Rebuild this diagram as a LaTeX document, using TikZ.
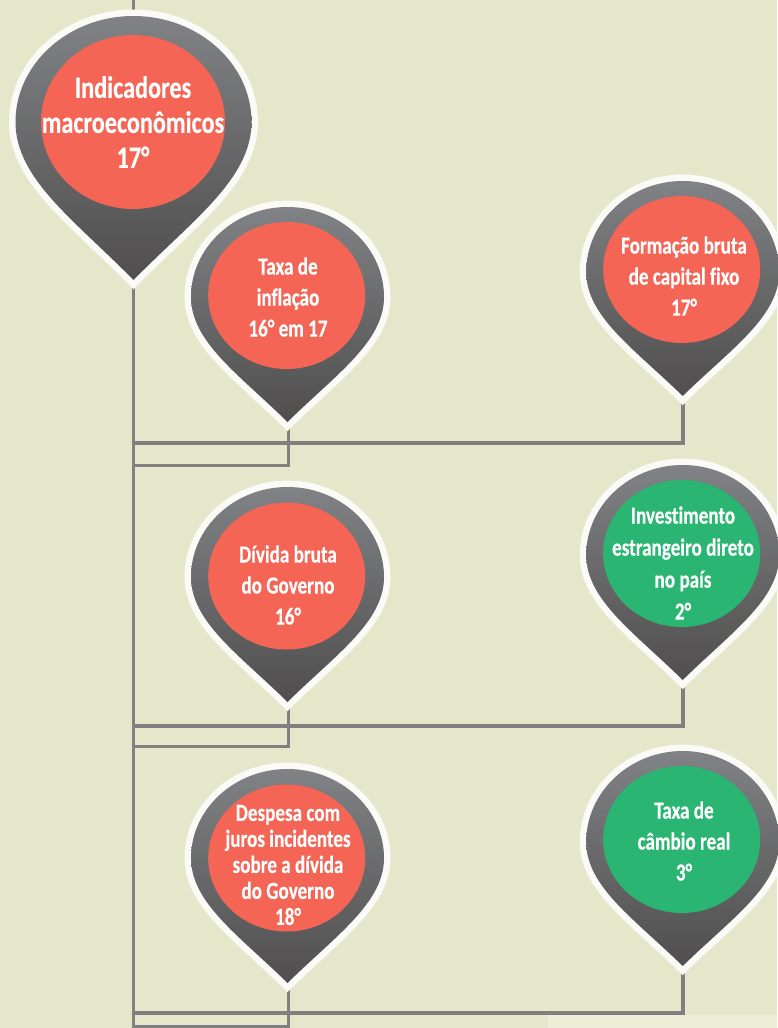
\documentclass[tikz,border=0pt]{standalone}
\usepackage{fontspec}
\setmainfont[FakeStretch=0.78,Ligatures=NoCommon,Contextuals=NoAlternate,BoldFeatures={FakeBold=0.3}]{Carlito}
\definecolor{bgc}{HTML}{E4E7C9}
\definecolor{patchc}{HTML}{EBEDD6}
\definecolor{linec}{HTML}{808080}
\definecolor{edgec}{HTML}{FAFAF7}
\definecolor{redc}{HTML}{F46556}
\definecolor{greenc}{HTML}{2BB573}
\definecolor{topc}{HTML}{808285}
\definecolor{botc}{HTML}{504E4E}
\tikzset{
 conn/.style={draw=linec,line width=3.6pt,line join=miter},
 connthin/.style={draw=linec,line width=3pt,line join=miter},
 lab/.style={text=white,align=center,font=\bfseries\fontsize{24.5}{31}\selectfont,inner sep=0pt},
 labwide/.style={text=white,align=center,font=\bfseries\fontsize{24.5}{32}\selectfont,inner sep=0pt},
 labtight/.style={text=white,align=center,font=\bfseries\fontsize{24.5}{26}\selectfont,inner sep=0pt},
 labbig/.style={text=white,align=center,font=\bfseries\fontsize{31}{35}\selectfont,inner sep=0pt},
}
\newcommand{\pinshape}[5]{%
 (#1-#4,#2) .. controls (#1-#4,#2-0.55*#2+0.55*#3) and (#1-0.55*#4,#3) .. (#1,#3)
 .. controls (#1+0.55*#4,#3) and (#1+#4,#2-0.55*#2+0.55*#3) .. (#1+#4,#2)
 .. controls (#1+#4,#2+0.36*#5-0.36*#2) and (#1+0.5*#4,#5-0.38*#5+0.38*#2) .. (#1,#5)
 .. controls (#1-0.5*#4,#5-0.38*#5+0.38*#2) and (#1-#4,#2+0.36*#5-0.36*#2) .. cycle}
\newcommand{\pinbody}[5]{%
 \draw[edgec,line width=13pt,line join=miter,miter limit=10] \pinshape{#1}{#2}{#3}{#4}{#5};
 \shade[top color=topc,bottom color=botc] \pinshape{#1}{#2}{#3}{#4}{#5};}
\begin{document}
\begin{tikzpicture}[x=1pt,y=-1pt]
\useasboundingbox (0,0) rectangle (777,1028);
\fill[bgc] (0,0) rectangle (777,1028);
\fill[patchc] (548,1015) rectangle (777,1028);
\coordinate (trunktop) at (133,0);
\coordinate (trunkbot) at (133,1028);
\coordinate (t1) at (288,425);
\coordinate (t2) at (683,400);
\coordinate (t3) at (288,705);
\coordinate (t4) at (683,683);
\coordinate (t5) at (288,986);
\coordinate (t6) at (683,970);
\coordinate (j1) at (133,465);
\coordinate (j2) at (133,443);
\coordinate (j3) at (133,746);
\coordinate (j4) at (133,726);
\coordinate (j5) at (133,1026.5);
\coordinate (j6) at (133,1013);
\draw[connthin] (trunktop) -- (trunkbot);
\draw[conn] (j2) -| (t2);
\draw[connthin] (j1) -| (t1);
\draw[conn] (j4) -| (t4);
\draw[connthin] (j3) -| (t3);
\draw[conn] (j6) -| (t6);
\draw[connthin] (j5) -| (t5);
\pinbody{133.5}{122}{16}{118}{280}
\fill[redc] (133,122) ellipse [x radius=92,y radius=87];
\node[labbig] (n0) at (133,122) {Indicadores\\macroeconômicos\\17°};
\pinbody{287.5}{297}{207}{96.5}{422}
\fill[redc] (286.7,295.5) ellipse [x radius=78.5,y radius=73.5];
\node[lab] (n1) at (288,297) {Taxa de\\inflação\\16° em 17};
\pinbody{287.5}{577}{487}{96.5}{702}
\fill[redc] (286.7,576) ellipse [x radius=78.5,y radius=73.5];
\node[lab] (n3) at (288,585) {Dívida bruta\\do Governo\\16°};
\pinbody{287.5}{858}{769}{96.5}{983}
\fill[redc] (286.7,858) ellipse [x radius=78.5,y radius=73.5];
\node[labtight] (n5) at (288,865) {Despesa com\\juros incidentes\\sobre a dívida\\do Governo\\18°};
\pinbody{682.7}{272}{181}{96.5}{396}
\fill[redc] (681.7,269.5) ellipse [x radius=78.5,y radius=73.5];
\node[lab] (n2) at (684,276) {Formação bruta\\de capital fixo\\17°};
\pinbody{682.7}{555}{465}{96.5}{680}
\fill[greenc] (681.7,553.5) ellipse [x radius=78.5,y radius=73.5];
\node[labwide] (n4) at (683,563) {Investimento\\estrangeiro direto\\no país\\2°};
\pinbody{682.7}{842}{751}{96.5}{966}
\fill[greenc] (681.7,839.5) ellipse [x radius=78.5,y radius=73.5];
\node[lab] (n6) at (684,841) {Taxa de\\câmbio real\\3°};
\end{tikzpicture}
\end{document}
